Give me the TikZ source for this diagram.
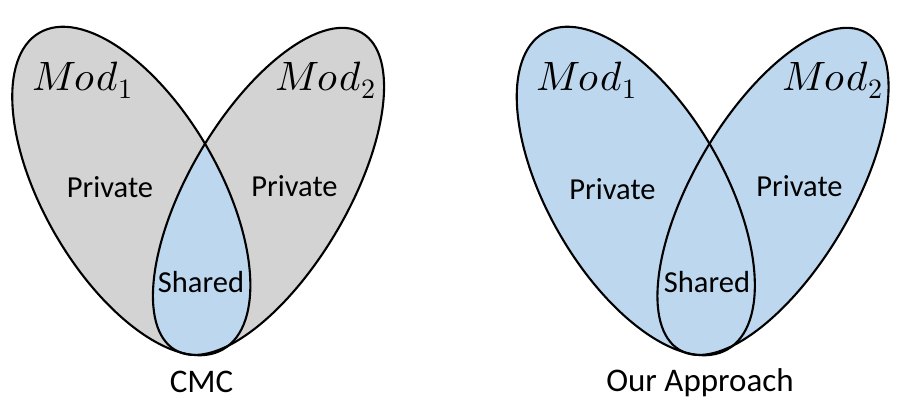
\documentclass[tikz,border=0pt]{standalone}
\usepackage{fontspec}
\setmainfont{Carlito}
\newfontfamily\modfont[LetterSpace=6]{latinmodern-math.otf}
\newfontfamily\subfont{latinmodern-math.otf}
\definecolor{shgray}{HTML}{D3D3D3}
\definecolor{shblue}{HTML}{BDD7EE}
\tikzset{
  outline/.style={draw=black, line width=2.1pt},
  ellA/.style={shift={(131.3,225)}, rotate=-59.85},
  ellB/.style={shift={(268.5,224.6)}, rotate=59.5},
  lbl/.style={font=\fontsize{30.5}{36}\selectfont, inner sep=0pt, anchor=base},
  capt/.style={font=\fontsize{33}{40}\selectfont, inner sep=0pt, anchor=base},
  modl/.style={font=\modfont\fontsize{41}{48}\selectfont, inner sep=0pt, anchor=base west}
}
\newcommand{\ellpA}{(0,0) ellipse [x radius=183pt, y radius=87.5pt]}
\newcommand{\ellpB}{(0,0) ellipse [x radius=184pt, y radius=79pt]}
\newcommand{\modsub}[1]{𝑀𝑜𝑑\raisebox{-9pt}{\subfont\fontsize{28}{30}\selectfont #1}}
\begin{document}
\begin{tikzpicture}[x=1pt,y=1pt]
\useasboundingbox (0,0) rectangle (908,416);
% ---- left diagram (CMC)
\fill[shgray, ellA] \ellpA;
\fill[shgray, ellB] \ellpB;
\begin{scope}
  \clip[ellA] \ellpA;
  \fill[shblue, ellB] \ellpB;
\end{scope}
\draw[outline, ellA] \ellpA;
\draw[outline, ellB] \ellpB;
% ---- right diagram (Our Approach)
\begin{scope}[xshift=504.5pt]
  \fill[shblue, ellA] \ellpA;
  \fill[shblue, ellB] \ellpB;
  \draw[outline, ellA] \ellpA;
  \draw[outline, ellB] \ellpB;
\end{scope}
% ---- labels
\node[modl] (modA1) at (32,326) {\modsub{1}};
\node[modl] (modA2) at (275,326) {\modsub{2}};
\node[lbl] (privA1) at (110,219) {Private};
\node[lbl] (privA2) at (294.5,219.3) {Private};
\node[lbl] (shA) at (201,124) {Shared};
\node[capt] (cmc) at (201.5,24) {CMC};
\node[modl] (modB1) at (536,326) {\modsub{1}};
\node[modl] (modB2) at (782,326) {\modsub{2}};
\node[lbl] (privB1) at (612.5,217) {Private};
\node[lbl] (privB2) at (799.5,219.3) {Private};
\node[lbl] (shB) at (707,124) {Shared};
\node[capt] (ours) at (700,25) {Our Approach};
\end{tikzpicture}
\end{document}
